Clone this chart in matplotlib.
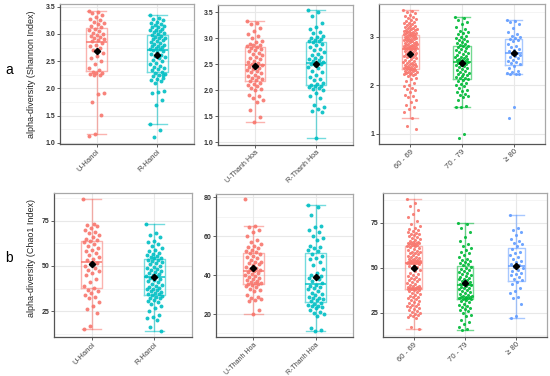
import numpy as np
import matplotlib
matplotlib.use("Agg")
import matplotlib.pyplot as plt

plt.rcParams['font.family'] = ['Liberation Sans', 'DejaVu Sans']

# ---- data: Shannon index ----
sh_u_hanoi = [3.43, 3.41, 3.38, 3.35, 3.32, 3.28, 3.25, 3.22, 3.2, 3.18, 3.15, 3.13,
              3.1, 3.08, 3.05, 3.02, 3.0, 2.98, 2.96, 2.95, 2.93, 2.9, 2.88, 2.87,
              2.84, 2.8, 2.77, 2.74, 2.7, 2.65, 2.6, 2.55, 2.5, 2.45, 2.38, 2.33,
              2.3, 2.29, 2.28, 2.27, 2.25, 2.24, 1.92, 1.9, 1.75, 1.52, 1.17, 1.12]
sh_r_hanoi = [3.35, 3.3, 3.27, 3.25, 3.22, 3.2, 3.18, 3.16, 3.15, 3.13, 3.12, 3.1, 3.08, 3.07, 3.05, 3.03, 3.02, 3.0,
              2.98, 2.97, 2.95, 2.93, 2.92, 2.9, 2.88, 2.87, 2.85, 2.83, 2.82, 2.8, 2.78, 2.77, 2.76, 2.74, 2.73, 2.72,
              2.7, 2.68, 2.66, 2.64, 2.62, 2.6, 2.58, 2.55, 2.52, 2.5, 2.47, 2.45, 2.42, 2.4, 2.37, 2.35, 2.33, 2.31,
              2.29, 2.27, 2.25, 2.22, 2.2, 2.18, 2.15, 2.13, 2.1, 1.95, 1.93, 1.92, 1.78, 1.7, 1.35, 1.23, 1.1, 2.24]
sh_u_th = [3.33, 3.3, 3.28, 3.2, 3.15, 3.08, 3.05, 3.0, 2.95, 2.92, 2.9, 2.88, 2.87, 2.85, 2.84,
           2.82, 2.8, 2.78, 2.75, 2.72, 2.7, 2.67, 2.65, 2.62, 2.6, 2.57, 2.55, 2.53, 2.5, 2.49,
           2.47, 2.45, 2.43, 2.41, 2.4, 2.38, 2.35, 2.33, 2.3, 2.28, 2.25, 2.23, 2.21, 2.19, 2.18,
           2.15, 2.12, 2.1, 2.08, 2.05, 2.02, 2.0, 1.92, 1.9, 1.85, 1.82, 1.78, 1.63, 1.48, 1.4]
sh_r_th = [3.54, 3.5, 3.43, 3.3, 3.22, 3.18, 3.12, 3.1, 3.05, 3.02, 3.0, 2.98, 2.96, 2.95, 2.94,
           2.92, 2.9, 2.87, 2.83, 2.8, 2.77, 2.74, 2.7, 2.67, 2.65, 2.62, 2.6, 2.58, 2.56, 2.54,
           2.52, 2.5, 2.5, 2.48, 2.45, 2.42, 2.38, 2.35, 2.3, 2.26, 2.22, 2.2, 2.15, 2.12, 2.11,
           2.09, 2.08, 2.06, 2.05, 2.02, 2.0, 1.95, 1.9, 1.85, 1.72, 1.68, 1.65, 1.6, 1.58, 1.08]
sh_60 = [3.55, 3.52, 3.5, 3.48, 3.45, 3.43, 3.4, 3.38, 3.36, 3.34, 3.32, 3.3, 3.28, 3.27, 3.25, 3.24, 3.22, 3.21,
         3.2, 3.18, 3.17, 3.16, 3.15, 3.14, 3.13, 3.12, 3.11, 3.1, 3.09, 3.08, 3.07, 3.07, 3.06, 3.05, 3.05,
         3.03, 3.02, 3.02, 3.01, 3.0, 2.99, 2.98, 2.97, 2.96, 2.95, 2.94, 2.93, 2.92, 2.91, 2.9, 2.89, 2.88, 2.87,
         2.86, 2.85, 2.84, 2.83, 2.82, 2.82, 2.81, 2.8, 2.8, 2.79, 2.78, 2.78, 2.77, 2.77, 2.76, 2.76, 2.75,
         2.74, 2.73, 2.72, 2.7, 2.69, 2.68, 2.67, 2.65, 2.64, 2.62, 2.61, 2.6, 2.58, 2.57, 2.55, 2.54, 2.52, 2.5,
         2.49, 2.47, 2.46, 2.45, 2.44, 2.43, 2.42, 2.41, 2.4, 2.39, 2.38, 2.37, 2.36, 2.35, 2.35, 2.34, 2.34,
         2.32, 2.31, 2.3, 2.29, 2.28, 2.27, 2.26, 2.25, 2.24, 2.23, 2.22, 2.2, 2.18, 2.15, 2.12, 2.08, 2.05, 2.0,
         1.98, 1.95, 1.93, 1.9, 1.85, 1.8, 1.78, 1.75, 1.7, 1.65, 1.6, 1.55, 1.52, 1.45, 1.33, 1.17, 1.1]
sh_70 = [3.4, 3.38, 3.35, 3.3, 3.25, 3.2, 3.15, 3.12, 3.1, 3.08, 3.05, 3.02, 3.0, 2.98, 2.95, 2.92, 2.9, 2.88, 2.86, 2.85, 2.83,
         2.81, 2.8, 2.78, 2.76, 2.74, 2.72, 2.7, 2.68, 2.66, 2.64, 2.62, 2.6, 2.58, 2.57, 2.55, 2.54, 2.53, 2.52, 2.51, 2.5, 2.49,
         2.47, 2.46, 2.45, 2.44, 2.42, 2.41, 2.4, 2.38, 2.36, 2.34, 2.32, 2.3, 2.28, 2.26, 2.24, 2.22, 2.2, 2.18, 2.16, 2.15, 2.14,
         2.12, 2.1, 2.08, 2.05, 2.02, 2.0, 1.98, 1.95, 1.9, 1.88, 1.85, 1.82, 1.8, 1.78, 1.75, 1.7, 1.58, 1.56, 1.55, 1.0, 0.92]
sh_80 = [3.35, 3.33, 3.3, 3.25, 3.18, 3.1, 3.05, 3.02, 3.0, 2.98,
         2.95, 2.92, 2.9, 2.85, 2.8, 2.78, 2.75, 2.72, 2.7, 2.67,
         2.64, 2.62, 2.6, 2.58, 2.55, 2.52, 2.5, 2.47, 2.45, 2.43,
         2.4, 2.35, 2.3, 2.27, 2.25, 2.23, 2.22, 2.22, 1.55, 1.33]

# ---- data: Chao1 index ----
ch_u_hanoi = [87, 73, 72.5, 72, 71, 70, 69, 68, 67, 66, 65, 64.5,
              63.5, 63, 62, 61, 60, 59, 58, 57, 56, 55, 54, 53,
              51.5, 51, 50, 49, 48, 47, 46, 45, 43, 41, 39, 38,
              36.5, 36, 35, 34, 33, 32, 30, 28, 26, 24, 17, 15]
ch_r_hanoi = [73, 68, 67, 66, 64, 63, 62, 61, 60, 59, 58, 57, 56.5, 56, 55.5, 55, 54.5, 54.2,
              53.5, 53, 52.5, 52, 51.5, 51, 50, 49.5, 49, 48.5, 48, 47, 46.5, 46, 45.5, 45, 44.5, 44.2,
              43.5, 43, 42, 41.5, 41, 40, 39.5, 39, 38.5, 38, 37.5, 37, 36.5, 36, 35.5, 35, 34.5, 34.2,
              33.8, 33.5, 33, 32.5, 32, 31, 30.5, 30, 29, 28, 27, 25, 23, 22, 21, 20, 16, 14]
ch_u_th = [79, 65, 64.5, 63, 62, 60, 58, 57, 56, 55, 54.5, 54, 53, 52.5, 52,
           51.5, 51, 50, 49.5, 49, 48, 47, 46.5, 46, 45.5, 45, 44, 43.5, 43, 42.5,
           42, 41.5, 41, 40.5, 40, 39.5, 39, 38.5, 38, 37.5, 37, 36.5, 36, 35.8, 35.6,
           35.2, 35, 34.5, 34, 33, 32.5, 32, 30, 29, 28, 27.5, 27, 26.5, 22, 20]
ch_r_th = [76, 75, 71, 65, 64.5, 63, 62, 60, 59, 58, 55, 54.5, 54, 53, 52.5,
           51, 50, 49, 48.5, 47, 45, 43, 41, 40, 39.5, 39, 38.5, 38, 37, 36,
           35, 34.5, 34, 33.5, 33, 32, 31, 30.5, 30, 29, 28.5, 28, 27.5, 27, 26.5,
           25.5, 25, 24.5, 24, 24, 23.5, 23, 22, 21, 20.5, 20, 19, 13, 12, 11.5]
ch_60 = [88, 86, 84, 82, 80, 78, 76, 74, 73, 72, 71.5, 71, 70.5, 70, 69.5, 69, 68.5, 68, 67.5, 67, 66.5, 66,
         65.5, 65, 64.5, 64.5, 64, 64, 63.5, 63.5, 63, 63, 62.5, 62.5, 62.2,
         61.8, 61.5, 61, 60.5, 60, 59.5, 59, 58.5, 58, 58, 57.5, 57, 56.5, 56, 56, 55.5, 55, 55, 54.5, 54.5,
         54, 54, 53.8, 53.6, 53.4, 53.2, 53, 53, 52.9, 52.8, 52.8, 52.7, 52.7, 52.6, 52.6,
         52.4, 52, 51.5, 51, 50.5, 50, 49, 48, 47, 46.5, 46, 45.5, 45, 44.5, 44, 43.5, 43, 42.5, 42, 41.5,
         41, 40.5, 40, 40, 39.5, 39.5, 39, 39, 38.8, 38.6, 38.5, 38.4, 38.3, 38.2, 38.1,
         37.8, 37.5, 37, 36.5, 36, 35.5, 35, 34.5, 34, 33.5, 33, 32.5, 32, 31.5, 31, 30.5, 30, 29.5,
         29, 28.5, 28, 27.5, 27, 26.5, 26, 25.5, 25, 24.5, 24, 23.5, 23, 22.5, 22, 17, 16]
ch_70 = [75, 74, 72, 70, 67, 65, 63, 62, 61, 60, 59, 58, 57, 56, 55, 54.5, 54, 53, 52.5, 52, 51.5,
         50.5, 50, 49.5, 49, 48, 47.5, 47, 46.5, 46, 45.5, 45, 44.5, 44, 43.5, 43, 42.5, 42, 41.5, 41.2, 41, 40.8,
         40.4, 40, 39.5, 39, 38.5, 38, 37.5, 37, 36.5, 36, 35.5, 35, 34.5, 34.2, 34, 33.8, 33.5, 33.3, 33.1, 32.9, 32.7,
         32.4, 32, 31.5, 31, 30, 29.5, 29, 28, 27.5, 27, 26.5, 26, 25, 24, 23, 21, 20, 19, 17, 16, 15.5]
ch_80 = [79, 72, 71, 70, 68, 66, 65, 64, 63, 62,
         60.5, 59, 58, 57, 56, 55, 54, 53, 52, 51.5,
         50.5, 50, 49, 48, 47, 46.5, 46, 45, 44, 43,
         42, 41, 39, 37, 36, 34, 33, 30, 23, 22]

site_labels_hanoi = ['U-Hanoi', 'R-Hanoi']
site_labels_th = ['U-Thanh Hoa', 'R-Thanh Hoa']
age_labels = ['60 - 69', '70 - 79', '\u2265 80']

RED, TEAL, GREEN, BLUE = '#F8766D', '#00BFC4', '#00BA38', '#619CFF'

W, H = 550, 376
fig = plt.figure(figsize=(W / 100, H / 100), dpi=100)


def panel(box_px, groups, labels, colors, ylim, yticks, yfmt, psize, xfont=5.6):
    # box_px = left, right, top, bottom in pixels
    l, r, t, b = box_px
    ax = fig.add_axes([l / W, (H - b) / H, (r - l) / W, (b - t) / H])
    pos = np.arange(1, len(groups) + 1)
    ax.set_xlim(0.4, len(groups) + 0.6)
    ax.set_ylim(*ylim)
    # grid (major + minor like ggplot)
    step = yticks[1] - yticks[0]
    minor = np.arange(yticks[0] - step / 2, ylim[1], step)
    for m in minor:
        ax.axhline(m, color='#f3f3f3', lw=0.6, zorder=0)
    for y in yticks:
        ax.axhline(y, color='#e8e8e8', lw=0.8, zorder=0)
    for p in pos:
        ax.axvline(p, color='#e8e8e8', lw=0.8, zorder=0)

    for i, (vals, c) in enumerate(zip(groups, colors)):
        vals = np.asarray(vals, dtype=float)
        ax.boxplot([vals], positions=[pos[i]], widths=0.33, whis=1.5, showfliers=False,
                   capwidths=0.3,
                   boxprops=dict(color=c, lw=1.0, alpha=0.55),
                   whiskerprops=dict(color=c, lw=1.0, alpha=0.55),
                   capprops=dict(color=c, lw=1.0, alpha=0.55),
                   medianprops=dict(color=c, lw=1.2, alpha=0.9), zorder=2)
        n = len(vals)
        jit = ((np.arange(n) * 0.618034) % 1 - 0.5) * 0.26
        ax.scatter(pos[i] + jit, vals, s=psize, color=c, alpha=0.9, lw=0, zorder=3)
        ax.plot(pos[i], vals.mean(), marker='D', color='black', ms=3.2, zorder=4)

    ax.set_xticks(pos)
    ax.set_xticklabels(labels, rotation=45, ha='right', rotation_mode='anchor',
                       fontsize=xfont, color='#444444')
    ax.set_yticks(yticks)
    ax.set_yticklabels([yfmt.format(v) for v in yticks], fontsize=5, fontweight='bold',
                       color='#333333')
    ax.tick_params(length=2, width=0.6, color='#444444', pad=1.5)
    ax.tick_params(axis='x', pad=1)
    for s in ['top', 'right']:
        ax.spines[s].set_color('#a8a8a8')
    for s in ['left', 'bottom']:
        ax.spines[s].set_color('#555555')
    for s in ax.spines.values():
        s.set_linewidth(0.9)
    return ax


panel((60, 194, 4, 144), [sh_u_hanoi, sh_r_hanoi], site_labels_hanoi, [RED, TEAL],
      (0.98, 3.55), [1.0, 1.5, 2.0, 2.5, 3.0, 3.5], '{:.1f}', 8)
panel((218, 353, 5, 145), [sh_u_th, sh_r_th], site_labels_th, [RED, TEAL],
      (0.95, 3.64), [1.0, 1.5, 2.0, 2.5, 3.0, 3.5], '{:.1f}', 8, xfont=5.2)
panel((379, 545, 4, 144), [sh_60, sh_70, sh_80], age_labels, [RED, GREEN, BLUE],
      (0.79, 3.67), [1, 2, 3], '{:.0f}', 5)

panel((54, 192, 193, 337), [ch_u_hanoi, ch_r_hanoi], site_labels_hanoi, [RED, TEAL],
      (10.7, 90.3), [25, 50, 75], '{:.0f}', 8)
panel((216, 353, 194, 337), [ch_u_th, ch_r_th], site_labels_th, [RED, TEAL],
      (8.2, 81.7), [20, 40, 60, 80], '{:.0f}', 8, xfont=5.0)
panel((383, 547, 193, 337), [ch_60, ch_70, ch_80], age_labels, [RED, GREEN, BLUE],
      (11.5, 91.5), [25, 50, 75], '{:.0f}', 5)

fig.text(32 / W, 1 - 74 / H, 'alpha-diversity (Shannon Index)', rotation=90,
         ha='center', va='center', fontsize=6.5, color='#222222')
fig.text(32 / W, 1 - 258 / H, 'alpha-diversity (Chao1 Index)', rotation=90,
         ha='center', va='center', fontsize=6.5, color='#222222')
fig.text(9 / W, 1 - 70 / H, 'a', ha='center', va='center', fontsize=10)
fig.text(9 / W, 1 - 258 / H, 'b', ha='center', va='center', fontsize=10)

fig.savefig('out.png', dpi=100)
